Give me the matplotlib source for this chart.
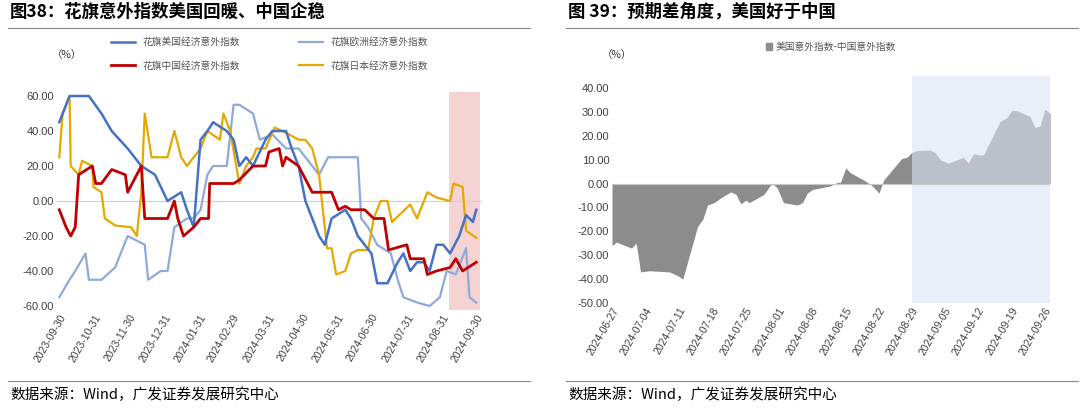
import matplotlib
matplotlib.use("Agg")
import matplotlib.pyplot as plt
import pandas as pd
from matplotlib.lines import Line2D
from matplotlib.patches import Patch

plt.rcParams['font.family'] = ['Noto Sans CJK SC', 'DejaVu Sans']

# ---- left chart data (day offset from 2023-09-30, value) ----
us_d = [0,9,26,37,46,60,72,84,95,107,112,118,124,130,135,147,153,158,164,170,181,187,199,204,210,216,222,228,233,239,251,256,262,274,279,288,297,302,308,314,320,325,331,337,343,351,357,363,366]
us_v = [45,60,60,50,40,30,20,15,0,5,-5,-15,35,40,45,40,35,20,25,20,35,40,40,30,20,0,-10,-20,-25,-10,-5,-10,-20,-30,-47,-47,-35,-30,-40,-35,-35,-40,-25,-25,-30,-20,-8,-12,-5]
eu_d = [0,9,14,23,26,37,49,60,66,75,78,89,95,101,112,118,124,130,135,147,153,158,170,176,187,199,210,222,228,236,251,262,265,271,279,291,297,302,314,325,334,340,348,357,360,366]
eu_v = [-55,-45,-40,-30,-45,-45,-38,-20,-22,-25,-45,-40,-40,-15,-10,-10,-5,15,20,20,55,55,50,35,38,30,30,20,15,25,25,25,-10,-15,-25,-30,-45,-55,-58,-60,-55,-40,-42,-27,-55,-58]
cn_d = [0,6,10,14,17,29,32,37,46,58,60,72,75,86,95,101,104,109,118,124,131,132,153,158,170,181,184,193,196,199,210,222,239,245,251,256,268,276,285,289,305,308,320,323,331,343,348,354,366]
cn_v = [-5,-15,-20,-15,15,20,10,10,18,15,5,20,-10,-10,-10,0,-10,-20,-15,-10,-10,10,10,12,20,20,28,30,20,25,20,5,5,-5,-3,-5,-5,-10,-10,-28,-25,-33,-33,-42,-40,-38,-33,-40,-35]
jp_d = [0,3,9,10,17,20,29,30,37,40,49,63,68,72,75,81,86,95,101,107,112,118,124,130,141,144,150,158,164,170,173,181,189,202,210,216,222,228,235,239,243,251,256,262,271,276,282,288,292,308,314,323,331,343,346,354,357,366]
jp_v = [25,50,60,20,15,23,20,8,5,-10,-14,-15,-20,5,50,25,25,25,40,25,20,25,30,40,35,50,40,10,20,25,30,30,42,38,35,35,30,15,-27,-27,-42,-40,-30,-28,-28,-10,0,0,-12,-2,-10,5,2,0,10,8,-17,-21]
left_ticks = ['2023-09-30','2023-10-31','2023-11-30','2023-12-31','2024-01-31','2024-02-29','2024-03-31','2024-04-30','2024-05-31','2024-06-30','2024-07-31','2024-08-31','2024-09-30']

# ---- right chart data (day offset from 2024-06-27, value) ----
df_d = [0,0.9,4.1,5.1,6,7.9,12.1,13.8,14.9,18,19.1,20.1,21.5,22.9,25,26.1,27.1,28.2,28.9,32,33.4,34.1,34.8,36.1,39,40.1,41.1,42.2,46,47.4,48.1,49.2,50.2,53.4,54.8,56.2,57.2,61,62.1,63.1,64.2,67,68,69.1,70.8,74,75,76.1,77.1,78.2,81.7,83.1,84.1,85.2,88,89,90.1,91.1,92.2]
df_v = [-26,-24.5,-27,-25,-37,-36.5,-37,-38.5,-40,-18,-15,-9,-8,-6,-3.5,-4.5,-8.5,-7,-8,-4.5,-0.5,-0.5,-2,-8,-9,-8,-4,-2.5,-1,0.5,0.5,6.5,4.5,1,-1,-4,1.5,10.5,11,13,13.8,14,13,10,8.5,11,8.5,12.5,12,12,26,27.5,30.5,30.5,28,23.5,24,31,29.5]
right_ticks = ['2024-06-27','2024-07-04','2024-07-11','2024-07-18','2024-07-25','2024-08-01','2024-08-08','2024-08-15','2024-08-22','2024-08-29','2024-09-05','2024-09-12','2024-09-19','2024-09-26']

def todates(base, d):
    return pd.Timestamp(base) + pd.to_timedelta(d, unit='D')

fig = plt.figure(figsize=(10.8, 4.11), dpi=100)
tc = '#404040'

fig.text(10/1080, 1-12/411, '图38：花旗意外指数美国回暖、中国企稳', fontsize=12.5, fontweight='bold', va='center')
fig.text(568/1080, 1-12/411, '图 39：预期差角度，美国好于中国', fontsize=12.5, fontweight='bold', va='center')
fig.text(10/1080, 1-395/411, '数据来源：Wind，广发证券发展研究中心', fontsize=10.5, va='center')
fig.text(568/1080, 1-395/411, '数据来源：Wind，广发证券发展研究中心', fontsize=10.5, va='center')
for x0, x1 in [(8, 530), (566, 1078)]:
    fig.add_artist(Line2D([x0/1080, x1/1080], [1-28/411]*2, color='#888888', lw=0.8))
    fig.add_artist(Line2D([x0/1080, x1/1080], [1-381/411]*2, color='#888888', lw=0.8))

# ---- left ----
ax = fig.add_axes([57/1080, 1-309.5/411, 425/1080, 217/411])
cols = {'us': '#4472c4', 'eu': '#8eaadb', 'cn': '#c00000', 'jp': '#e6a800'}
base = '2023-09-30'
ax.axvspan(todates(base, 342), todates(base, 369), color='#f4cccc', alpha=0.85, lw=0)
ax.axhline(0, color='#d0d0d0', lw=0.8)
l_eu, = ax.plot(todates(base, eu_d), eu_v, color=cols['eu'], lw=1.6)
l_jp, = ax.plot(todates(base, jp_d), jp_v, color=cols['jp'], lw=1.6)
l_us, = ax.plot(todates(base, us_d), us_v, color=cols['us'], lw=1.8)
l_cn, = ax.plot(todates(base, cn_d), cn_v, color=cols['cn'], lw=2)
ax.set_ylim(-62, 62)
ax.set_xlim(todates(base, -2), todates(base, 371))
ax.set_yticks(range(-60, 61, 20))
ax.set_yticklabels([f'{v:.2f}' for v in range(-60, 61, 20)], fontsize=8, color=tc, family=['Liberation Sans'])
ax.set_xticks(pd.to_datetime(left_ticks))
ax.set_xticklabels(left_ticks, rotation=60, ha='right', rotation_mode='anchor', fontsize=7.5, color=tc, family=['Liberation Sans'])
for s in ax.spines.values():
    s.set_visible(False)
ax.tick_params(length=0, pad=2)
ax.legend([l_us, l_cn, l_eu, l_jp], ['花旗美国经济意外指数', '花旗中国经济意外指数', '花旗欧洲经济意外指数', '花旗日本经济意外指数'],
          ncol=2, loc='lower center', bbox_to_anchor=(0.5, 1.06), frameon=False, fontsize=7, labelcolor='#555555',
          columnspacing=6, handlelength=2.5, labelspacing=1.4)
fig.text(52/1080, 1-55/411, '（%）', fontsize=7.5, va='center', color='#333333')

# ---- right ----
ax2 = fig.add_axes([612/1080, 1-303/411, 438/1080, 227/411])
base2 = '2024-06-27'
xd = todates(base2, df_d)
ax2.fill_between(xd, 0, df_v, color='#8c8c8c', lw=0)
ax2.axhline(0, color='#c8c8c8', lw=0.8)
ax2.axvspan(todates(base2, 63.1), todates(base2, 92.2), color='#dde3f5', alpha=0.6, lw=0)
ax2.set_ylim(-50, 45)
ax2.set_xlim(todates(base2, 0), todates(base2, 92.2))
ax2.set_yticks(range(-50, 41, 10))
ax2.set_yticklabels([f'{v:.2f}' for v in range(-50, 41, 10)], fontsize=8, color=tc, family=['Liberation Sans'])
ax2.set_xticks(pd.to_datetime(right_ticks))
ax2.set_xticklabels(right_ticks, rotation=60, ha='right', rotation_mode='anchor', fontsize=7.5, color=tc, family=['Liberation Sans'])
for s in ax2.spines.values():
    s.set_visible(False)
ax2.tick_params(length=0, pad=2)
ax2.legend([Patch(color='#8c8c8c')], ['美国意外指数-中国意外指数'], loc='center', bbox_to_anchor=(0.5, (303-47)/227), frameon=False,
           fontsize=7, labelcolor='#555555', handlelength=0.6, handleheight=0.6, handletextpad=0.3)
fig.text(602/1080, 1-55/411, '（%）', fontsize=7.5, va='center', color='#333333')

fig.savefig('out.png', dpi=100)
